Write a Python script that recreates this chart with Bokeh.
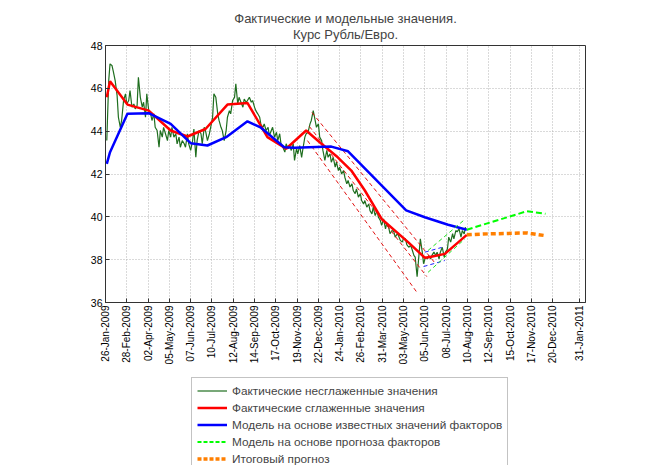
import math
from bokeh.plotting import figure
from bokeh.layouts import column
from bokeh.models import Range1d, FixedTicker, Legend, LegendItem, Title
from bokeh.embed import file_html
from bokeh.resources import INLINE

# x values: days since 26-Jan-2009
tick_days = [0, 33, 66, 99, 132, 165, 198, 231, 264, 297, 330, 363, 396, 429,
             462, 495, 528, 561, 594, 627, 660, 693, 735]
tick_labels = ["26-Jan-2009", "28-Feb-2009", "02-Apr-2009", "05-May-2009",
               "07-Jun-2009", "10-Jul-2009", "12-Aug-2009", "14-Sep-2009",
               "17-Oct-2009", "19-Nov-2009", "22-Dec-2009", "24-Jan-2010",
               "26-Feb-2010", "31-Mar-2010", "03-May-2010", "05-Jun-2010",
               "08-Jul-2010", "10-Aug-2010", "12-Sep-2010", "15-Oct-2010",
               "17-Nov-2010", "20-Dec-2010", "31-Jan-2011"]
y_ticks = [36, 38, 40, 42, 44, 46, 48]

raw_days = [
    2, 5, 7, 10, 12, 15, 18, 20, 23, 25, 28, 31, 33, 36, 38, 41, 44, 46, 49, 51,
    54, 57, 59, 62, 64, 67, 70, 72, 75, 77, 80, 83, 85, 88, 90, 93, 96, 98, 101, 103,
    106, 109, 111, 114, 116, 119, 122, 124, 127, 129, 132, 135, 137, 140, 142,
    145, 148, 150, 153, 155, 158, 161, 163, 166, 168, 171, 174, 176, 179, 181,
    184, 187, 189, 192, 194, 197, 200, 202, 205, 207, 210, 213, 215, 218, 220,
    223, 226, 228, 231, 233, 236, 239, 241, 244, 246, 249, 252, 254, 257, 259,
    262, 265, 267, 270, 272, 275, 278, 280, 283, 285, 288, 291, 293, 296, 298,
    301, 304, 306, 309, 311, 314, 317, 319, 322, 324, 327, 330, 332, 335, 337,
    340, 343, 345, 348, 350, 353, 356, 358, 361, 363, 366, 369, 371, 374, 376,
    379, 382, 384, 387, 389, 392, 395, 397, 400, 402, 405, 408, 410, 413, 415,
    418, 421, 423, 426, 428, 431, 434, 436, 439, 441, 444, 447, 449, 452, 454,
    457, 460, 462, 465, 467, 470, 473, 475, 478, 480, 483, 486, 488, 491, 493,
    496, 499, 501, 504, 506, 509, 512, 514, 517, 519, 522, 525, 527, 530, 532,
    535, 538, 540, 543, 545, 548, 551, 553, 556, 558]
raw_vals = [
    43.56, 46.36, 47.14, 47.07, 46.8, 46.36, 45.66, 44.65, 44.18, 44.5,
    45.43, 45.74, 45.27, 45.43, 45.9, 45.12, 45.27, 45.04, 45.2, 46.52,
    45.58, 45.12, 45.35, 44.65, 45.74, 44.96, 44.81, 44.5, 44.81, 44.18,
    44.03, 43.25, 44.03, 43.72, 44.18, 43.88, 43.56, 44.03, 43.72, 44.18,
    43.72, 43.88, 43.41, 43.72, 43.25, 43.56, 43.41, 43.25, 43.88, 43.41,
    43.1, 43.56, 44.1, 42.78, 43.56, 44.03, 43.88, 43.41, 44.18, 44.03,
    43.56, 43.88, 44.18, 44.65, 45.74, 45.58, 44.81, 44.5, 44.18, 44.03,
    43.56, 44.03, 44.65, 44.96, 44.81, 45.43, 45.58, 46.21, 45.27, 45.58,
    45.35, 45.12, 45.5, 45.35, 45.43, 45.58, 45.35, 45.43, 45.12, 44.96,
    44.81, 44.65, 44.3, 44.18, 44.34, 44.03, 44.18, 43.8, 44.03, 44.18,
    43.72, 43.95, 43.56, 43.88, 43.41, 43.25, 43.02, 43.41, 43.18, 43.33,
    43.1, 43.41, 42.63, 43.18, 42.94, 43.33, 42.78, 43.18, 43.72, 43.88,
    43.95, 44.34, 44.5, 44.96, 44.65, 44.18, 44.34, 43.72, 43.56, 43.1,
    42.63, 43.1, 42.78, 42.94, 42.55, 42.78, 42.32, 42.55, 42.16, 42.32,
    42.0, 42.16, 41.85, 41.54, 41.7, 41.39, 41.54, 41.23, 41.08, 41.31,
    40.92, 41.08, 40.76, 40.6, 40.76, 40.45, 40.6, 40.29, 40.14, 40.45,
    40.06, 40.29, 39.98, 39.83, 39.6, 39.9, 39.44, 39.7, 39.5, 39.21,
    39.36, 39.3, 39.05, 39.2, 39.13, 38.9, 38.82, 39.0, 38.97, 38.7,
    38.58, 38.66, 38.5, 38.2, 38.12, 37.2, 38.27, 38.97, 38.35, 37.81,
    38.12, 38.04, 38.19, 38.04, 38.2, 38.35, 38.2, 38.35, 38.04, 38.35,
    38.58, 38.12, 38.35, 38.5, 39.05, 38.82, 39.21, 38.97, 39.36, 39.3,
    39.44, 39.05, 39.36, 39.2, 39.52]

smooth_days = [2, 7, 34, 67, 101, 127, 155, 189, 220, 251, 280, 311, 332, 360,
               381, 402, 428, 469, 495, 503, 526, 560]
smooth_vals = [45.58, 46.33, 45.24, 44.96, 44.03, 43.75, 44.1, 45.24, 45.32,
               43.72, 43.18, 44.03, 43.48, 42.78, 42.16, 41.23, 39.9, 38.82,
               38.09, 38.12, 38.27, 39.16]

model_days = [2, 7, 34, 67, 101, 132, 158, 187, 220, 241, 277, 293, 350, 376,
              466, 495, 531, 560]
model_vals = [42.47, 43.02, 44.81, 44.84, 44.34, 43.44, 43.33, 43.72, 44.46,
              44.16, 43.25, 43.22, 43.28, 43.06, 40.3, 39.98, 39.63, 39.4]

factor_fc_days = [560, 653, 682]
factor_fc_vals = [39.4, 40.26, 40.14]

final_fc_days = [560, 585, 620, 653, 682]
final_fc_vals = [39.16, 39.2, 39.22, 39.25, 39.12]

# trend channels
red_up_days, red_up_vals = [320, 510], [44.87, 37.87]
red_mid_days, red_mid_vals = [316, 498], [44.22, 37.21]
red_low_days, red_low_vals = [313, 484], [43.56, 36.42]
grn_up_days, grn_up_vals = [500, 555], [38.43, 39.83]
grn_low_days, grn_low_vals = [500, 557], [37.41, 38.97]
blu_up_days, blu_up_vals = [495, 521], [38.35, 38.57]
blu_low_days, blu_low_vals = [493, 526], [37.68, 37.96]

legend_labels = ["Фактические несглаженные значения",
                 "Фактические сглаженные значения",
                 "Модель на основе известных значений факторов",
                 "Модель на основе прогноза факторов",
                 "Итоговый прогноз"]

FONT = "Liberation Sans"
STY_RAW = dict(line_color="#1f6e1f", line_width=1.2)
STY_SMOOTH = dict(line_color="#ff0000", line_width=2.5)
STY_MODEL = dict(line_color="#0000ff", line_width=2.5)
STY_FFC = dict(line_color="#00ff00", line_width=2, line_dash="4 2")
STY_FIN = dict(line_color="#ff7f00", line_width=3.5, line_dash="4 2")

p = figure(width=660, height=375,
           x_range=Range1d(0, 744), y_range=Range1d(36, 48),
           output_backend="svg", toolbar_location=None,
           min_border_left=105, min_border_right=75, min_border_top=45,
           min_border_bottom=73)
p.title.visible = False
p.add_layout(Title(text="Курс Рубль/Евро.", align="center", text_font=FONT,
                   text_font_size="13px", text_font_style="normal", standoff=8), "above")
p.add_layout(Title(text="Фактические и модельные значения.", align="center", text_font=FONT,
                   text_font_size="13px", text_font_style="normal", standoff=-10), "above")

p.xaxis.ticker = FixedTicker(ticks=tick_days)
p.xaxis.major_label_overrides = {d: l for d, l in zip(tick_days, tick_labels)}
p.xaxis.major_label_orientation = math.pi / 2
p.yaxis.ticker = FixedTicker(ticks=y_ticks)
p.xaxis.major_label_text_font_size = "10px"
p.yaxis.major_label_text_font_size = "10.5px"
p.axis.major_label_text_font = FONT
p.axis.major_label_text_color = "black"
p.axis.major_label_standoff = 3
p.axis.major_tick_in = 4
p.axis.major_tick_out = 0
p.axis.minor_tick_line_color = None
p.axis.axis_line_color = "#333333"
p.axis.major_tick_line_color = "#333333"
p.outline_line_color = "#333333"
p.outline_line_alpha = 1
p.grid.grid_line_color = "#b4b4b4"
p.grid.grid_line_dash = "1 2"
p.grid.grid_line_width = 1

p.line(raw_days, raw_vals, **STY_RAW)
for dd, vv in [(red_up_days, red_up_vals), (red_mid_days, red_mid_vals), (red_low_days, red_low_vals)]:
    p.line(dd, vv, line_color="#e01010", line_width=1, line_dash="4 3")
p.line(smooth_days, smooth_vals, **STY_SMOOTH)
p.line(model_days, model_vals, **STY_MODEL)
for dd, vv in [(blu_up_days, blu_up_vals), (blu_low_days, blu_low_vals)]:
    p.line(dd, vv, line_color="#2020ff", line_width=1, line_dash="4 3")
for dd, vv in [(grn_up_days, grn_up_vals), (grn_low_days, grn_low_vals)]:
    p.line(dd, vv, line_color="#20e020", line_width=1, line_dash="4 3")
p.line(factor_fc_days, factor_fc_vals, line_color="#00ff00", line_width=2, line_dash="6 3")
p.line(final_fc_days, final_fc_vals, line_color="#ff7f00", line_width=3.5, line_dash="5 3")

# legend panel below the chart (its frame is aligned with the chart frame)
pl = figure(width=660, height=90, x_range=Range1d(0, 1), y_range=Range1d(0, 1),
            output_backend="svg", toolbar_location=None,
            x_axis_type=None, y_axis_type=None, min_border=0)
pl.grid.visible = False
pl.outline_line_color = None
items = []
for lab, sty in zip(legend_labels, [STY_RAW, STY_SMOOTH, STY_MODEL, STY_FFC, STY_FIN]):
    r = pl.line([5, 6], [5, 6], **sty)   # lies outside the visible range: legend key only
    items.append(LegendItem(label=lab, renderers=[r]))
legend = Legend(items=items, location=(86, -7))
legend.label_text_font = FONT
legend.label_text_font_size = "11.8px"
legend.glyph_width = 30
legend.glyph_height = 15
legend.label_height = 15
legend.spacing = 2
legend.padding = 5
legend.margin = 0
legend.label_standoff = 5
legend.border_line_color = "#888888"
legend.background_fill_alpha = 1
pl.add_layout(legend)

open("out.html", "w").write(file_html(column(p, pl, spacing=0), INLINE))
